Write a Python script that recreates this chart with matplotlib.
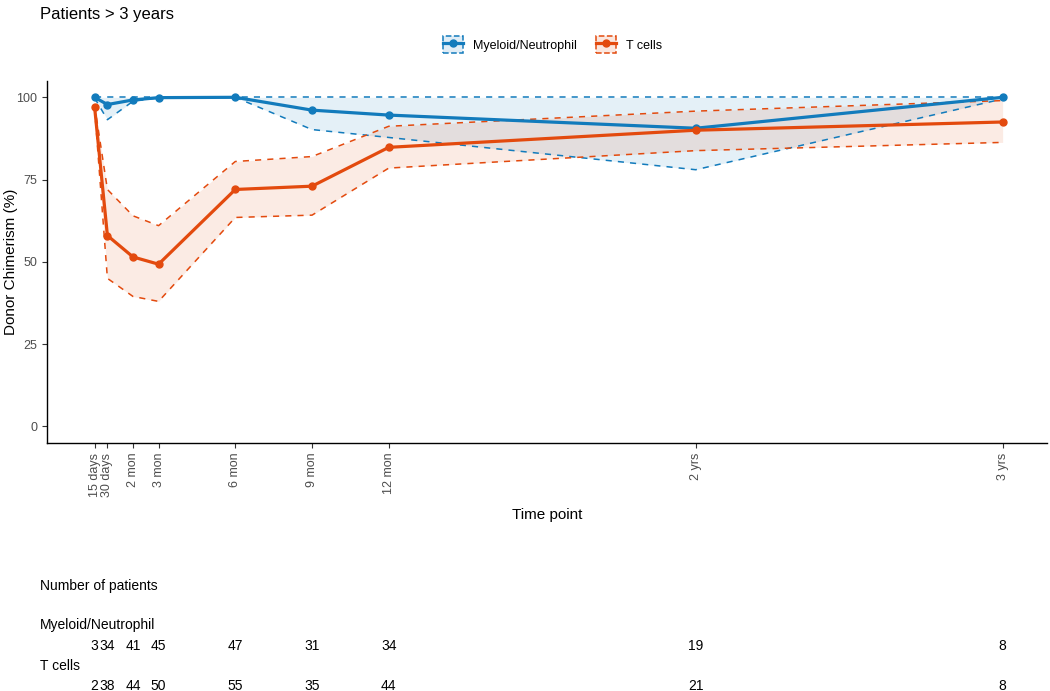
import matplotlib.pyplot as plt
from matplotlib.lines import Line2D
from matplotlib.patches import Patch
import matplotlib.transforms as mtransforms

plt.rcParams['font.family'] = ['Liberation Sans', 'DejaVu Sans']

# time points in months
months = [0.5, 1, 2, 3, 6, 9, 12, 24, 36]
tick_labels = ["15 days", "30 days", "2 mon", "3 mon", "6 mon", "9 mon", "12 mon", "2 yrs", "3 yrs"]

myeloid = [100, 97.8, 99.2, 99.9, 100, 96.1, 94.6, 90.6, 100]
myeloid_lo = [99.8, 93.2, 98.8, 99.8, 100, 90.2, 87.8, 78.0, 99.5]
myeloid_hi = [100, 100, 100, 100, 100, 100, 100, 100, 100]

tcell = [97, 58, 51.5, 49.3, 72, 73, 84.8, 90, 92.5]
tcell_lo = [96.5, 45, 39.5, 38, 63.5, 64.2, 78.5, 83.8, 86.3]
tcell_hi = [97.5, 72, 64, 61, 80.5, 82, 91.2, 95.8, 99]

n_myeloid = [3, 34, 41, 45, 47, 31, 34, 19, 8]
n_tcell = [2, 38, 44, 50, 55, 35, 44, 21, 8]

blue = "#127BBC"
orange = "#E34A0E"

fig = plt.figure(figsize=(10.5, 6.91), dpi=100)
ax = fig.add_axes([0.0448, 0.359, 0.952, 0.524])

for y, lo, hi, c in [(myeloid, myeloid_lo, myeloid_hi, blue), (tcell, tcell_lo, tcell_hi, orange)]:
    ax.fill_between(months, lo, hi, color=c, alpha=0.11, linewidth=0)
    ax.plot(months, lo, color=c, lw=1.1, ls=(0, (4, 4)))
    ax.plot(months, hi, color=c, lw=1.1, ls=(0, (4, 4)))
for y, c in [(myeloid, blue), (tcell, orange)]:
    ax.plot(months, y, color=c, lw=2.3, marker='o', ms=5)

ax.set_xlim(-1.36, 37.72)
ax.set_ylim(-5, 105)
ax.set_yticks([0, 25, 50, 75, 100])
ax.set_xticks(months)
ax.set_xticklabels(tick_labels, rotation=90, va='top', ha='center')
ax.tick_params(axis='both', labelsize=9, labelcolor='#4D4D4D', color='#333333', length=3.5, width=0.8)
for s in ['top', 'right']:
    ax.spines[s].set_visible(False)
for s in ['left', 'bottom']:
    ax.spines[s].set_linewidth(1.0)
ax.set_ylabel("Donor Chimerism (%)", fontsize=11, va='center')
ax.yaxis.set_label_coords(-0.036, 0.5)
ax.set_xlabel("Time point", fontsize=11, labelpad=8)

fig.text(0.038, 0.99, "Patients > 3 years", fontsize=12, va='top', ha='left')

# legend
handles = [
    (Patch(facecolor=blue, alpha=0.13, edgecolor='none'),
     Patch(facecolor='none', edgecolor=blue, ls='--', lw=1.1),
     Line2D([], [], color=blue, lw=2.3, marker='o', ms=5)),
    (Patch(facecolor=orange, alpha=0.13, edgecolor='none'),
     Patch(facecolor='none', edgecolor=orange, ls='--', lw=1.1),
     Line2D([], [], color=orange, lw=2.3, marker='o', ms=5)),
]
fig.legend(handles, ["Myeloid/Neutrophil", "T cells"], loc='center', bbox_to_anchor=(0.526, 0.935),
           ncol=2, frameon=False, fontsize=9, handlelength=1.6, handleheight=1.7,
           columnspacing=1.5, handletextpad=0.8)

# number-at-risk table
trans = mtransforms.blended_transform_factory(ax.transData, fig.transFigure)
fig.text(0.038, 1 - 586 / 691, "Number of patients", fontsize=10, va='center', ha='left')
fig.text(0.038, 1 - 625 / 691, "Myeloid/Neutrophil", fontsize=10, va='center', ha='left')
fig.text(0.038, 1 - 666 / 691, "T cells", fontsize=10, va='center', ha='left')
for m, a, b in zip(months, n_myeloid, n_tcell):
    ax.text(m, 1 - 646 / 691, str(a), transform=trans, fontsize=10, ha='center', va='center')
    ax.text(m, 1 - 686 / 691, str(b), transform=trans, fontsize=10, ha='center', va='center')

fig.savefig("out.png", dpi=100)
